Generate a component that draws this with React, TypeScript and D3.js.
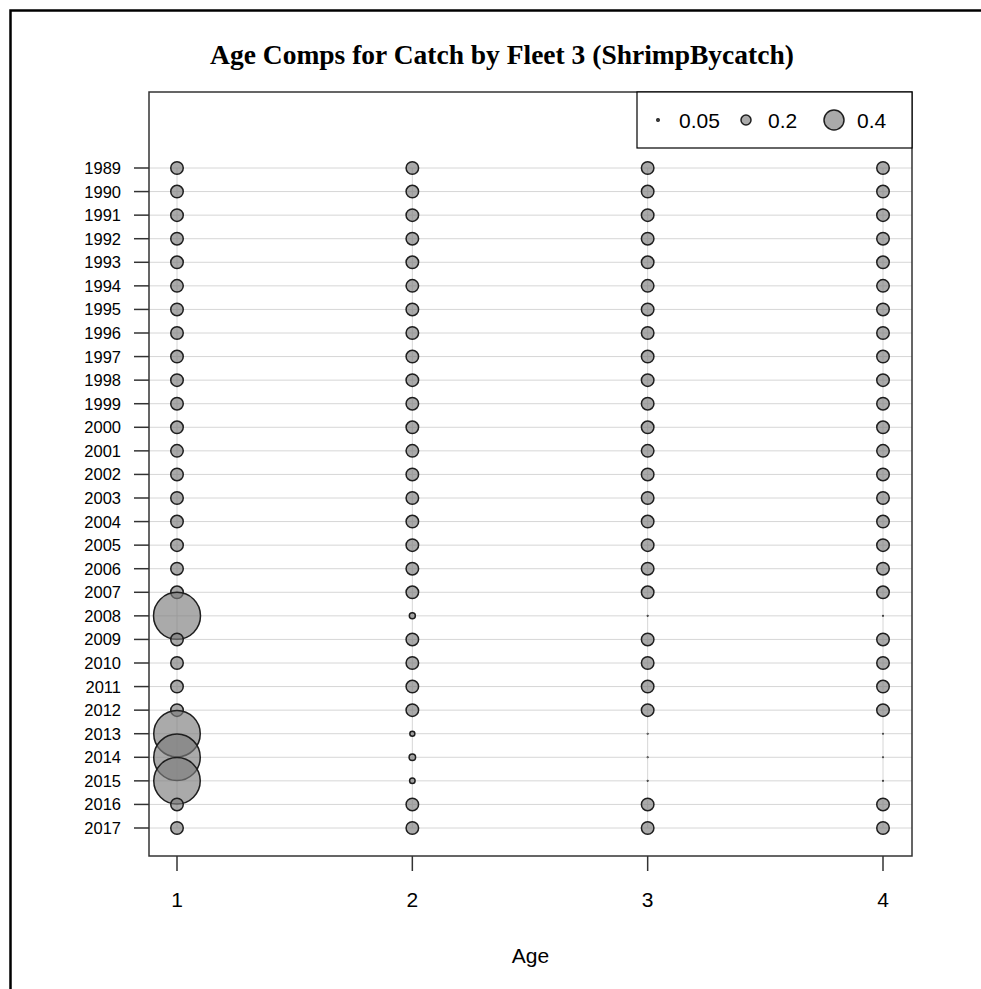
import React from "react";
import * as d3 from "d3";

const years: number[] = d3.range(1989, 2018);
const ages: number[] = [1, 2, 3, 4];

// composition proportions by year (ages 1..4)
const age1: number[] = [0.25,0.25,0.25,0.25,0.25,0.25,0.25,0.25,0.25,0.25,0.25,0.25,0.25,0.25,0.25,0.25,0.25,0.25,0.25,0.94,0.25,0.25,0.25,0.25,0.93,0.93,0.93,0.25,0.25];
const age2: number[] = [0.25,0.25,0.25,0.25,0.25,0.25,0.25,0.25,0.25,0.25,0.25,0.25,0.25,0.25,0.25,0.25,0.25,0.25,0.25,0.12,0.25,0.25,0.25,0.25,0.1,0.13,0.11,0.25,0.25];
const age3: number[] = [0.25,0.25,0.25,0.25,0.25,0.25,0.25,0.25,0.25,0.25,0.25,0.25,0.25,0.25,0.25,0.25,0.25,0.25,0.25,0.01,0.25,0.25,0.25,0.25,0.01,0.01,0.01,0.25,0.25];
const age4: number[] = [0.25,0.25,0.25,0.25,0.25,0.25,0.25,0.25,0.25,0.25,0.25,0.25,0.25,0.25,0.25,0.25,0.25,0.25,0.25,0.01,0.25,0.25,0.25,0.25,0.01,0.01,0.01,0.25,0.25];
const series: number[][] = [age1, age2, age3, age4];

const legendValues: number[] = [0.05, 0.2, 0.4];
const legendLabels: string[] = ["0.05", "0.2", "0.4"];

const W = 981, H = 989;
const box = { l: 149, r: 912, t: 92, b: 856 };

export default function App() {
  const x = d3.scaleLinear().domain([1, 4]).range([177, 883]);
  const y = d3.scaleLinear().domain([1989, 2017]).range([168, 828]);
  const rs = d3.scaleLinear().domain([0, 1]).range([0, 25]);

  const points: { age: number; year: number; v: number }[] = [];
  years.forEach((yr, i) => {
    ages.forEach((a, j) => {
      points.push({ age: a, year: yr, v: series[j][i] });
    });
  });

  const legendX = [658, 746, 834];
  const legendTextX = [679, 768, 857];
  const legendY = 120;

  return (
    <svg width={W} height={H} style={{ position: "absolute", left: 0, top: 0, background: "#fff" }}>
      <rect x={10.5} y={10.5} width={1100} height={1100} fill="none" stroke="#000" strokeWidth={2.5} />
      <text x={502} y={64} textAnchor="middle" fontFamily="Liberation Serif" fontWeight="bold" fontSize={27.5}>
        Age Comps for Catch by Fleet 3 (ShrimpBycatch)
      </text>
      {/* gridlines */}
      {years.map((yr) => (
        <line key={"h" + yr} x1={box.l} x2={box.r} y1={y(yr)} y2={y(yr)} stroke="#d6d6d6" strokeWidth={1} />
      ))}
      {ages.map((a) => (
        <line key={"v" + a} x1={x(a)} x2={x(a)} y1={y(1989)} y2={y(2017)} stroke="#d6d6d6" strokeWidth={1} />
      ))}
      {/* bubbles */}
      {points.map((p, i) => (
        <circle key={i} cx={x(p.age)} cy={y(p.year)} r={Math.max(rs(p.v), 0.3)}
          fill="rgba(124,124,124,0.65)" stroke="#1e1e1e" strokeWidth={1.5} />
      ))}
      {/* plot box */}
      <rect x={box.l} y={box.t} width={box.r - box.l} height={box.b - box.t} fill="none" stroke="#333" strokeWidth={1.5} />
      {/* y axis */}
      {years.map((yr) => (
        <g key={"yt" + yr}>
          <line x1={134} x2={box.l} y1={y(yr)} y2={y(yr)} stroke="#333" strokeWidth={1.5} />
          <text x={121} y={y(yr) + 6} textAnchor="end" fontFamily="Liberation Sans" fontSize={16.5} fill="#000">{yr}</text>
        </g>
      ))}
      {/* x axis */}
      {ages.map((a) => (
        <g key={"xt" + a}>
          <line x1={x(a)} x2={x(a)} y1={box.b} y2={871} stroke="#333" strokeWidth={1.5} />
          <text x={x(a)} y={907} textAnchor="middle" fontFamily="Liberation Sans" fontSize={21} fill="#000">{a}</text>
        </g>
      ))}
      <text x={(box.l + box.r) / 2} y={963} textAnchor="middle" fontFamily="Liberation Sans" fontSize={21}>Age</text>
      {/* legend */}
      <rect x={637} y={box.t} width={box.r - 637} height={148 - box.t} fill="#fff" stroke="#000" strokeWidth={1.2} />
      {legendValues.map((v, i) => (
        <g key={"lg" + i}>
          <circle cx={legendX[i]} cy={legendY} r={Math.max(rs(v), 0.3)} fill="rgba(124,124,124,0.65)" stroke="#1e1e1e" strokeWidth={1.5} />
          <text x={legendTextX[i]} y={legendY + 8} fontFamily="Liberation Sans" fontSize={21}>{legendLabels[i]}</text>
        </g>
      ))}
    </svg>
  );
}
